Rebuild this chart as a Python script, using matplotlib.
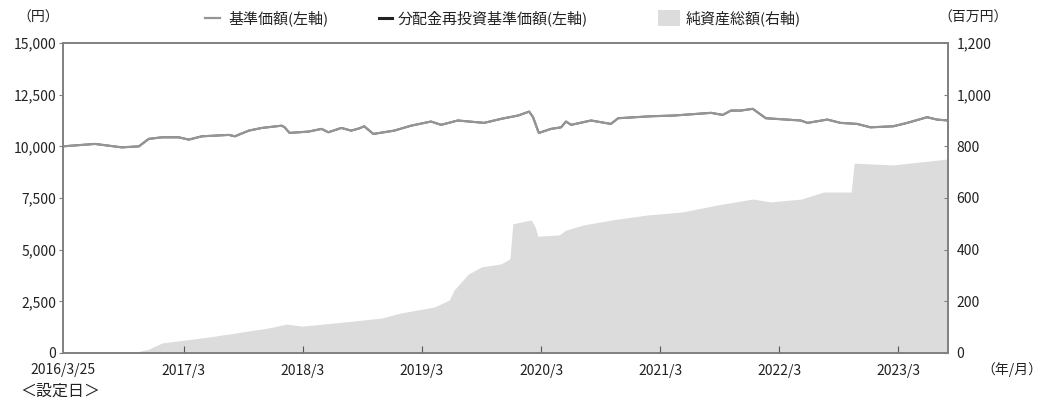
import numpy as np
import pandas as pd
import matplotlib
matplotlib.use("Agg")
import matplotlib.pyplot as plt
from matplotlib.lines import Line2D
from matplotlib.patches import Rectangle

plt.rcParams['font.family'] = ['Noto Sans CJK JP', 'DejaVu Sans']

# 基準価額 (円) -- 分配金再投資基準価額と同じ値
nav_dates = ["2016-03-25", "2016-07-01", "2016-09-22", "2016-11-13", "2016-12-13",
             "2017-01-23", "2017-03-15", "2017-04-15", "2017-05-25", "2017-08-16",
             "2017-09-03", "2017-10-16", "2017-11-25", "2018-01-25", "2018-02-03",
             "2018-02-18", "2018-04-17", "2018-05-27", "2018-06-17", "2018-07-27",
             "2018-08-26", "2018-09-20", "2018-10-05", "2018-11-02", "2019-01-05",
             "2019-02-26", "2019-04-28", "2019-05-29", "2019-07-19", "2019-10-08",
             "2019-11-29", "2020-01-20", "2020-02-23", "2020-03-06", "2020-03-21",
             "2020-03-24", "2020-04-30", "2020-05-31", "2020-06-15", "2020-07-01",
             "2020-08-31", "2020-10-31", "2020-11-22", "2021-03-03", "2021-05-12",
             "2021-09-03", "2021-10-09", "2021-11-03", "2021-12-03", "2022-01-09",
             "2022-02-18", "2022-06-05", "2022-06-26", "2022-08-26", "2022-10-05",
             "2022-11-25", "2023-01-05", "2023-03-16", "2023-04-28", "2023-06-28",
             "2023-07-28", "2023-08-31"]
nav = [10000, 10116, 9950, 10000, 10360,
       10437, 10437, 10325, 10485, 10553,
       10485, 10760, 10890, 11000, 10920,
       10650, 10713, 10843, 10680, 10890,
       10760, 10870, 10970, 10600, 10760,
       11000, 11200, 11040, 11250, 11135,
       11330, 11490, 11680, 11410, 10760,
       10650, 10843, 10920, 11200, 11040,
       11250, 11085, 11360, 11455, 11490,
       11620, 11520, 11730, 11730, 11815,
       11360, 11250, 11135, 11295, 11135,
       11085, 10920, 10970, 11135, 11410,
       11295, 11250]
nav_reinv = list(nav)

# 純資産総額 (百万円)
asset_dates = ["2016-03-25", "2016-10-23", "2016-12-13", "2017-01-23", "2017-04-03",
               "2017-06-16", "2017-09-03", "2017-12-16", "2018-02-09", "2018-03-27",
               "2018-07-06", "2018-11-26", "2019-01-26", "2019-05-08", "2019-06-23",
               "2019-07-08", "2019-08-20", "2019-09-29", "2019-11-29", "2019-12-26",
               "2020-01-04", "2020-02-29", "2020-03-12", "2020-03-21", "2020-05-25",
               "2020-06-15", "2020-08-09", "2020-11-03", "2021-02-18", "2021-06-08",
               "2021-09-23", "2022-01-09", "2022-03-05", "2022-06-08", "2022-08-14",
               "2022-11-07", "2022-11-16", "2023-03-16", "2023-08-31"]
assets = [0, 0, 15, 39, 50,
          62, 77, 97, 112, 104,
          116, 135, 155, 178, 205,
          244, 305, 333, 345, 364,
          500, 515, 490, 452, 457,
          476, 496, 515, 534, 546,
          573, 596, 585, 596, 623,
          623, 735, 728, 751]

tick_labels = ["2017/3", "2018/3", "2019/3", "2020/3", "2021/3", "2022/3", "2023/3"]

nav_x = pd.to_datetime(nav_dates)
asset_x = pd.to_datetime(asset_dates)
tick_x = pd.to_datetime(["2017-03-31", "2018-03-31", "2019-03-31", "2020-03-31",
                         "2021-03-31", "2022-03-31", "2023-03-31"])

W, H = 1043, 401
fig = plt.figure(figsize=(W/100, H/100), dpi=100)
ax = fig.add_axes([63/W, 48/H, 885/W, 310/H])
ax2 = ax.twinx()

txt = "#222222"
spine_c = "#808080"
fs = 10
lfs = 10.8

ax2.fill_between(asset_x, assets, 0, color="#dcdcdc", lw=0)
ax2.set_ylim(0, 1200)
ax2.set_yticks([0, 200, 400, 600, 800, 1000, 1200])
ax2.set_yticklabels(["0", "200", "400", "600", "800", "1,000", "1,200"])

ax.set_zorder(ax2.get_zorder() + 1)
ax.patch.set_visible(False)
ax.plot(nav_x, nav_reinv, color="#555555", lw=1.4)
ax.plot(nav_x, nav, color="#959595", lw=1.6)
ax.set_ylim(0, 15000)
ax.set_yticks([0, 2500, 5000, 7500, 10000, 12500, 15000])
ax.set_yticklabels(["0", "2,500", "5,000", "7,500", "10,000", "12,500", "15,000"])
ax.set_xlim(pd.Timestamp("2016-03-25"), pd.Timestamp("2023-08-31"))
ax.set_xticks(tick_x)
ax.set_xticklabels(tick_labels)

for a in (ax, ax2):
    for s in a.spines.values():
        s.set_color(spine_c)
        s.set_linewidth(1.2)
ax.tick_params(axis="x", direction="in", length=5, color="#555555", labelsize=fs,
               labelcolor=txt, pad=8)
ax.tick_params(axis="y", direction="out", length=3, color=spine_c, labelsize=fs,
               labelcolor=txt, pad=2)
ax2.tick_params(axis="y", direction="in", length=3, color=spine_c, labelsize=fs,
                labelcolor=txt, pad=6)

fig.text(38/W, 1-18/H, "（円）", ha="center", va="center", fontsize=fs, color=txt)
fig.text(973/W, 1-18/H, "（百万円）", ha="center", va="center", fontsize=fs, color=txt)
fig.text(1012/W, 1-370/H, "（年/月）", ha="center", va="center", fontsize=fs, color=txt)
fig.text(63/W, 1-370/H, "2016/3/25", ha="center", va="center", fontsize=fs, color=txt)
fig.text(20/W, 1-391/H, "＜設定日＞", ha="left", va="center", fontsize=11.5, color=txt)

# 凡例
ly = 1 - 18/H
fig.add_artist(Line2D([205/W, 220/W], [ly, ly], color="#959595", lw=1.6))
fig.text(228/W, ly, "基準価額(左軸)", ha="left", va="center", fontsize=lfs, color=txt)
fig.add_artist(Line2D([379/W, 392/W], [ly, ly], color="#222222", lw=2.2))
fig.text(398/W, ly, "分配金再投資基準価額(左軸)", ha="left", va="center", fontsize=lfs, color=txt)
fig.add_artist(Rectangle((658/W, 1-26/H), 22/W, 16/H, facecolor="#dcdcdc",
                         edgecolor="none", transform=fig.transFigure))
fig.text(686/W, ly, "純資産総額(右軸)", ha="left", va="center", fontsize=lfs, color=txt)

fig.savefig("out.png", dpi=100)
